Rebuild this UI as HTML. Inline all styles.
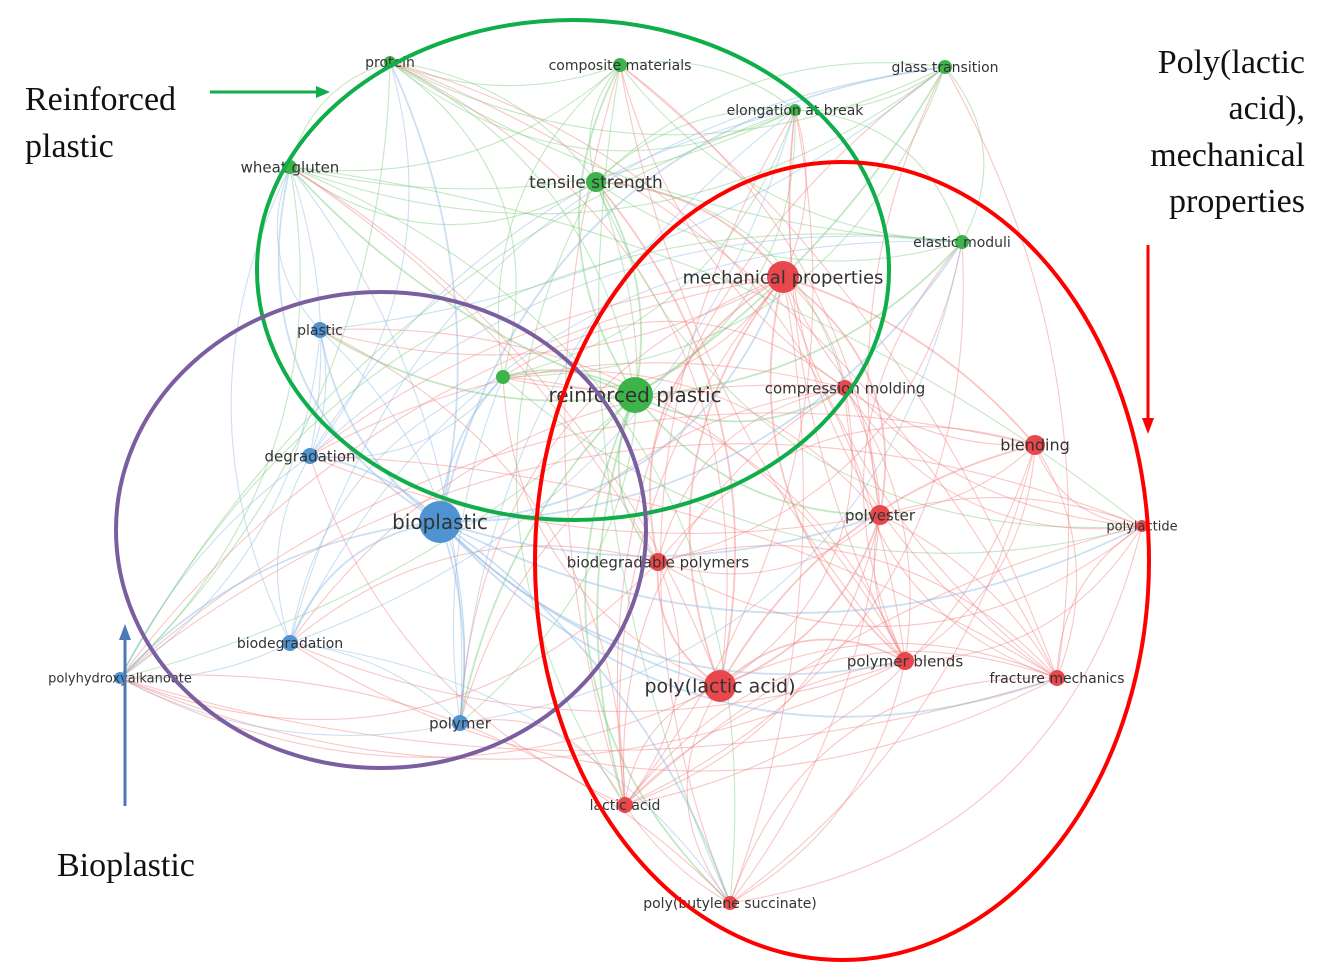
<!DOCTYPE html>
<html><head><meta charset="utf-8"><style>
html,body{margin:0;padding:0;background:#fff;width:1330px;height:980px;overflow:hidden}
svg{display:block}
.lbl{font-family:"DejaVu Sans","Liberation Sans",sans-serif;fill:#333}
.ser{font-family:"Liberation Serif",serif;font-size:34px;fill:#111}
</style></head><body>
<svg id="s" width="1330" height="980" viewBox="0 0 1330 980" xmlns="http://www.w3.org/2000/svg">
<g id="edges" fill="none"></g>
<g id="nodes"></g>
<g id="labels"></g>
<ellipse cx="573" cy="270" rx="316" ry="250" fill="none" stroke="#0fae4a" stroke-width="4"/>
<ellipse cx="381" cy="530" rx="265" ry="238" fill="none" stroke="#7b5ea0" stroke-width="4"/>
<ellipse cx="842" cy="561" rx="307" ry="399" fill="none" stroke="#f00" stroke-width="4"/>
<line x1="210" y1="92" x2="318" y2="92" stroke="#0fae4a" stroke-width="3"/>
<polygon points="330,92 316,86 316,98" fill="#0fae4a"/>
<line x1="1148" y1="245" x2="1148" y2="420" stroke="#f00" stroke-width="3"/>
<polygon points="1148,434 1142,418 1154,418" fill="#f00"/>
<line x1="125" y1="806" x2="125" y2="638" stroke="#4a7ab5" stroke-width="3"/>
<polygon points="125,624 119,640 131,640" fill="#4a7ab5"/>
<text class="ser" x="25" y="110">Reinforced</text>
<text class="ser" x="25" y="157">plastic</text>
<text class="ser" x="1305" y="73" text-anchor="end">Poly(lactic</text>
<text class="ser" x="1305" y="119" text-anchor="end">acid),</text>
<text class="ser" x="1305" y="166" text-anchor="end">mechanical</text>
<text class="ser" x="1305" y="212" text-anchor="end">properties</text>
<text class="ser" x="57" y="876">Bioplastic</text>
</svg>
<script>
var N=[
["protein",390,62,6,"g",14],["composite materials",620,65,7,"g",14],["glass transition",945,67,7,"g",14],
["elongation at break",795,110,6,"g",14],["wheat gluten",290,167,7,"g",15],["tensile strength",596,182,10,"g",17],
["elastic moduli",962,242,7,"g",14],["",503,377,7,"g",15],["reinforced plastic",635,395,18,"g",20],
["mechanical properties",783,277,16,"r",18],["compression molding",845,388,8,"r",15],["blending",1035,445,10,"r",16],
["polyester",880,515,10,"r",15],["polylactide",1142,526,6,"r",13],["biodegradable polymers",658,562,9,"r",15],
["polymer blends",905,661,9,"r",15],["fracture mechanics",1057,678,8,"r",14],["poly(lactic acid)",720,686,16,"r",19],
["lactic acid",625,805,8,"r",14],["poly(butylene succinate)",730,903,7,"r",14],
["plastic",320,330,8,"b",14],["degradation",310,456,8,"b",15],["bioplastic",440,522,21,"b",20],
["biodegradation",290,643,8,"b",14],["polyhydroxyalkanoate",120,678,6,"b",13],["polymer",460,723,8,"b",15]];
var C={g:"#3cb44a",r:"#e8474b",b:"#4f93d2"},E={g:"#7cc97c",r:"#f28080",b:"#8cbbe4"};
var ns="http://www.w3.org/2000/svg",eg=document.getElementById("edges"),ng=document.getElementById("nodes"),lg=document.getElementById("labels");
var seed=7;function rnd(){seed=(seed*16807)%2147483647;return seed/2147483647;}
for(var i=0;i<N.length;i++)for(var j=i+1;j<N.length;j++){
 var a=N[i],b=N[j];var p=(a[4]==b[4])?0.9:0.55;if(rnd()>p)continue;
 var dx=b[1]-a[1],dy=b[2]-a[2];var k=(rnd()<0.5?-1:1)*(0.12+rnd()*0.25);
 var mx=(a[1]+b[1])/2-dy*k,my=(a[2]+b[2])/2+dx*k;
 var pth=document.createElementNS(ns,"path");
 pth.setAttribute("d","M"+a[1]+","+a[2]+" Q"+mx+","+my+" "+b[1]+","+b[2]);
 var src=(a[3]>=b[3])?a:b;
 pth.setAttribute("stroke",E[src[4]]);pth.setAttribute("stroke-opacity",0.45);
 pth.setAttribute("stroke-width",(a[3]+b[3]>24)?1.8:1.1);eg.appendChild(pth);}
N.forEach(function(n){var c=document.createElementNS(ns,"circle");c.setAttribute("cx",n[1]);c.setAttribute("cy",n[2]);c.setAttribute("r",n[3]);c.setAttribute("fill",C[n[4]]);ng.appendChild(c);
 if(n[0]){var t=document.createElementNS(ns,"text");t.setAttribute("class","lbl");t.setAttribute("x",n[1]);t.setAttribute("y",n[2]+n[5]*0.35);t.setAttribute("text-anchor","middle");t.setAttribute("font-size",n[5]);t.textContent=n[0];lg.appendChild(t);}});
</script>
</body></html>
